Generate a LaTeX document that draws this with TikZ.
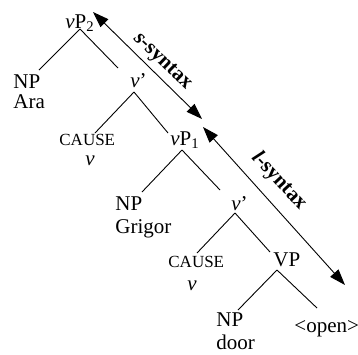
\documentclass[tikz,border=0pt]{standalone}
\usepackage{fontspec}
\setmainfont{Liberation Serif}
\usetikzlibrary{arrows.meta,calc}
\begin{document}
\begin{tikzpicture}[x=0.5pt,y=-0.5pt,
  lab/.style={anchor=base west,inner sep=0pt,font=\fontsize{10.5}{12}\selectfont},
  sc/.style={anchor=base west,inner sep=0pt,font=\fontsize{8.5}{10}\selectfont},
  branch/.style={line width=0.45pt},
  darr/.style={line width=0.45pt,{Triangle[length=8pt,width=5.5pt]}-{Triangle[length=8pt,width=5.5pt]}},
  arrlab/.style={inner sep=0pt,font=\fontsize{10.5}{12}\selectfont\bfseries}]
\useasboundingbox (0,0) rectangle (358,354);
% nodes
\node[lab] (vp2) at (65,28) {\textit{v}P\textsubscript{2}};
\node[lab] (npA) at (13,88) {NP};
\node[lab] (ara) at (13,108) {Ara};
\node[lab] (v1) at (130,87) {\textit{v}’};
\node[sc] (cause1) at (59,145) {CAUSE};
\node[lab] (vv1) at (85,165) {\textit{v}};
\node[lab] (vp1) at (170,145) {\textit{v}P\textsubscript{1}};
\node[lab] (npG) at (115,210) {NP};
\node[lab] (grigor) at (115,233) {Grigor};
\node[lab] (v2) at (231,210) {\textit{v}’};
\node[sc] (cause2) at (168,267) {CAUSE};
\node[lab] (vv2) at (187,290) {\textit{v}};
\node[lab] (vp) at (273,266) {VP};
\node[lab] (npD) at (216,326) {NP};
\node[lab] (door) at (216,349) {door};
\node[lab] (open) at (294,332) {<open>};
% branches
\draw[branch] ($(vp2.base west)+(15,1)$) -- ($(npA.base west)+(26,-18)$);
\draw[branch] ($(vp2.base west)+(15,1)$) -- ($(v1.base west)+(-12,-19)$);
\draw[branch] ($(v1.base west)+(4,5)$) -- ($(cause1.base west)+(36,-12)$);
\draw[branch] ($(v1.base west)+(4,5)$) -- ($(vp1.base west)+(-2,-12)$);
\draw[branch] ($(vp1.base west)+(12,5)$) -- ($(npG.base west)+(27,-18)$);
\draw[branch] ($(vp1.base west)+(12,5)$) -- ($(v2.base west)+(-11,-20)$);
\draw[branch] ($(v2.base west)+(4,3)$) -- ($(cause2.base west)+(29,-14)$);
\draw[branch] ($(v2.base west)+(4,3)$) -- ($(vp.base west)+(-3,-14)$);
\draw[branch] ($(vp.base west)+(4,4)$) -- ($(npD.base west)+(22,-16)$);
\draw[branch] ($(vp.base west)+(4,4)$) -- ($(open.base west)+(23,-24)$);
% arrows
\coordinate (s1) at (93,12);
\coordinate (s2) at (202,119);
\coordinate (l1) at (203,127);
\coordinate (l2) at (345,285);
\draw[darr] (s1) -- (s2);
\draw[darr] (l1) -- (l2);
\node[arrlab,rotate=-44] (slab) at (162,62) {\textit{s}-syntax};
\node[arrlab,rotate=-47] (llab) at (279,181) {\textit{l}-syntax};
\end{tikzpicture}
\end{document}
